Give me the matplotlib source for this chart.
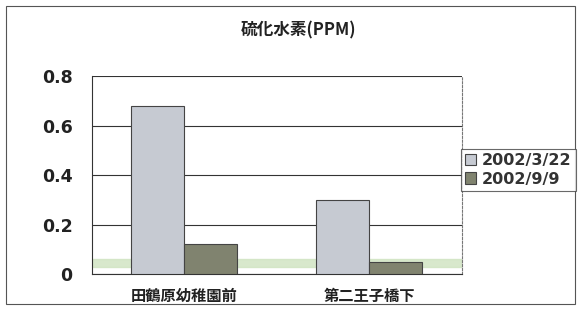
import matplotlib.pyplot as plt
import numpy as np

plt.rcParams['font.family'] = ['Noto Sans CJK JP', 'DejaVu Sans']

# data
categories = ['田鶴原幼稚園前', '第二王子橋下']
series_names = ['2002/3/22', '2002/9/9']
values_0322 = [0.68, 0.30]
values_0909 = [0.12, 0.05]
yticks = [0, 0.2, 0.4, 0.6, 0.8]
ytick_labels = ['0', '0.2', '0.4', '0.6', '0.8']

fig = plt.figure(figsize=(5.78, 3.09), dpi=100)
# outer chart frame
fig.patches.append(plt.Rectangle((0.01, 0.015), 0.985, 0.965, transform=fig.transFigure,
                                 fill=False, edgecolor='#555555', linewidth=0.8))

ax = fig.add_axes([0.159, 0.113, 0.64, 0.641])
x = np.arange(len(categories))
w = 0.286

ax.axhspan(0.03, 0.06, color='#cfe3c0', alpha=0.8, zorder=0)
ax.bar(x - w / 2, values_0322, w, color='#c6cad2', edgecolor='#444444',
       linewidth=0.8, label=series_names[0], zorder=3)
ax.bar(x + w / 2, values_0909, w, color='#80836f', edgecolor='#444444',
       linewidth=0.8, label=series_names[1], zorder=3)

ax.set_xlim(-0.5, 1.5)
ax.set_ylim(0, 0.8)
ax.set_yticks(yticks)
ax.set_yticklabels(ytick_labels, fontsize=12.5, fontweight='bold', color='#222222',
                   family='DejaVu Sans')
ax.set_xticks(x)
ax.set_xticklabels(categories, fontsize=11, fontweight='bold', color='#222222')
ax.tick_params(axis='y', length=0, pad=14)
ax.tick_params(axis='x', length=0, pad=10)
ax.yaxis.grid(True, color='#333333', linewidth=0.8)
ax.set_axisbelow(True)
ax.spines['top'].set_visible(False)
ax.spines['right'].set_linestyle((0, (2, 1.5)))
ax.spines['right'].set_color('#777777')
ax.spines['right'].set_linewidth(0.8)
ax.spines['left'].set_color('#333333')
ax.spines['bottom'].set_color('#333333')

fig.text(0.516, 0.903, '硫化水素(PPM)', ha='center', va='center',
         fontsize=12, fontweight='bold', color='#222222')

leg = fig.legend(loc='center left', bbox_to_anchor=(0.797, 0.45),
                 prop={'family': 'DejaVu Sans', 'weight': 'bold', 'size': 11.5},
                 frameon=True, fancybox=False, edgecolor='#444444',
                 handlelength=0.7, handleheight=0.7, handletextpad=0.4,
                 borderpad=0.25, labelspacing=0.2, borderaxespad=0)
leg.get_frame().set_linewidth(0.8)
for t in leg.get_texts():
    t.set_color('#333333')

plt.savefig('out.png', dpi=100)
